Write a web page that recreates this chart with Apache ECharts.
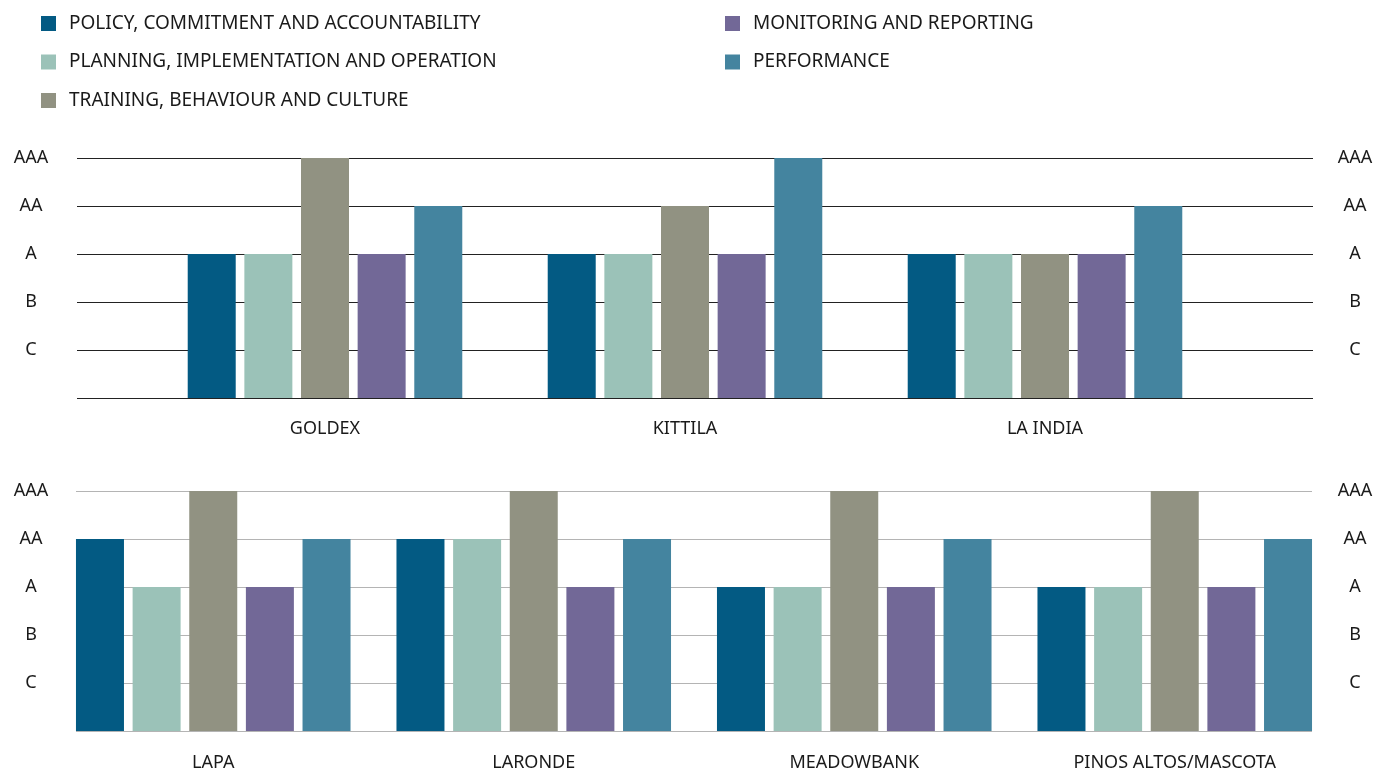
<!DOCTYPE html>
<html>
<head>
<meta charset="utf-8">
<script src="https://cdn.jsdelivr.net/npm/echarts@6/dist/echarts.min.js"></script>
<style>
  html, body { margin: 0; padding: 0; background: #fff; }
  #chart { width: 1379px; height: 772px; }
</style>
</head>
<body>
<div id="chart"></div>
<script>
// sites in each panel
const topSites = ['GOLDEX', 'KITTILA', 'LA INDIA'];
const bottomSites = ['LAPA', 'LARONDE', 'MEADOWBANK', 'PINOS ALTOS/MASCOTA'];

// rating scale: 1 = C ... 5 = AAA
const ratingLabels = ['', 'C', 'B', 'A', 'AA', 'AAA'];

const seriesNames = [
    'POLICY, COMMITMENT AND ACCOUNTABILITY',
    'PLANNING, IMPLEMENTATION AND OPERATION',
    'TRAINING, BEHAVIOUR AND CULTURE',
    'MONITORING AND REPORTING',
    'PERFORMANCE'
];
const colours = ['#035a83', '#9bc2b8', '#919282', '#726897', '#44849f'];

// top panel values, one array per series
const policyTop = [3, 3, 3];
const planningTop = [3, 3, 3];
const trainingTop = [5, 4, 3];
const monitoringTop = [3, 3, 3];
const performanceTop = [4, 5, 4];

// bottom panel values
const policyBottom = [4, 4, 3, 3];
const planningBottom = [3, 4, 3, 3];
const trainingBottom = [5, 5, 5, 5];
const monitoringBottom = [3, 3, 3, 3];
const performanceBottom = [4, 4, 4, 4];

const topData = [policyTop, planningTop, trainingTop, monitoringTop, performanceTop];
const bottomData = [policyBottom, planningBottom, trainingBottom, monitoringBottom, performanceBottom];

const FONT = 'Noto Sans';
const textCol = '#1a1a1a';

function lineAxis(gridIndex, position, margin, lineColor, showLines){
    return {
        type: 'value', gridIndex: gridIndex, position: position,
        min: 0, max: 5, interval: 1,
        axisLine: {show: false}, axisTick: {show: false},
        splitLine: {show: showLines, lineStyle: {color: lineColor, width: 1}},
        axisLabel: {
            formatter: v => ratingLabels[v] || '',
            fontFamily: FONT, fontSize: 18, color: textCol,
            align: 'center', margin: margin
        }
    };
}
function hiddenY(gridIndex){
    return {type: 'value', gridIndex: gridIndex, min: 0, max: 5, interval: 1, show: false, splitLine: {show: false}};
}
function catAxis(gridIndex, cats, margin){
    return {
        type: 'category', gridIndex: gridIndex, data: cats,
        axisLine: {show: false}, axisTick: {show: false},
        axisLabel: {fontFamily: FONT, fontSize: 18, color: textCol, margin: margin}
    };
}

let series = [];
seriesNames.forEach((name, i) => {
    series.push({
        name: name, type: 'bar', xAxisIndex: 1, yAxisIndex: 2,
        barWidth: 48, barGap: '18%', data: topData[i],
        itemStyle: {color: colours[i]}, silent: true
    });
    series.push({
        name: name, type: 'bar', xAxisIndex: 3, yAxisIndex: 5,
        barWidth: 48, barGap: '18%', data: bottomData[i],
        itemStyle: {color: colours[i]}, silent: true
    });
});

const legendText = {fontFamily: FONT, fontSize: 19, color: textCol, lineHeight: 16, padding: [0, 0, 0, 8]};

let option = {
    animation: false,
    legend: [
        {
            data: seriesNames.slice(0, 3), orient: 'vertical', left: 41, top: 14, padding: 0,
            itemWidth: 15, itemHeight: 15, itemGap: 19.5, icon: 'rect',
            textStyle: legendText
        },
        {
            data: seriesNames.slice(3), orient: 'vertical', left: 725, top: 14, padding: 0,
            itemWidth: 15, itemHeight: 15, itemGap: 19.5, icon: 'rect',
            textStyle: legendText
        }
    ],
    grid: [
        {left: 77, right: 66, top: 158, height: 240},
        {left: 145, width: 1080, top: 158, height: 240},
        {left: 76, right: 67, top: 491, height: 240},
        {left: 53, width: 1282, top: 491, height: 240}
    ],
    xAxis: [
        {type: 'value', gridIndex: 0, show: false, splitLine: {show: false}},
        catAxis(1, topSites, 22),
        {type: 'value', gridIndex: 2, show: false, splitLine: {show: false}},
        catAxis(3, bottomSites, 23)
    ],
    yAxis: [
        lineAxis(0, 'left', 46, '#222', true),
        lineAxis(0, 'right', 42, '#222', false),
        hiddenY(1),
        lineAxis(2, 'left', 45, '#b4b4b4', true),
        lineAxis(2, 'right', 43, '#b4b4b4', false),
        hiddenY(3)
    ],
    series: series
};

let myChart = echarts.init(document.getElementById('chart'));
myChart.setOption(option);
</script>
</body>
</html>
